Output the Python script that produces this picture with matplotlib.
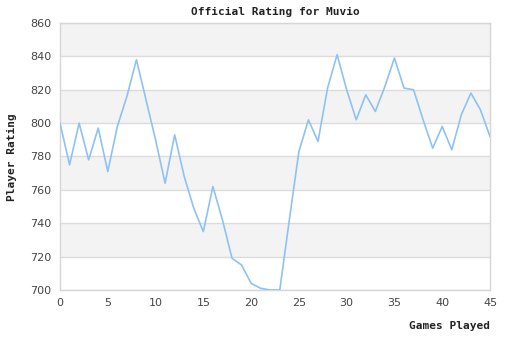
import matplotlib
matplotlib.use("Agg")
import matplotlib.pyplot as plt

# rating after each game
games = list(range(46))
rating = [800, 775, 800, 778, 797, 771, 798, 816, 838, 814,
          790, 764, 793, 768, 749, 735, 762, 742, 719, 715,
          704, 701, 700, 700, 742, 783, 802, 789, 821, 841,
          820, 802, 817, 807, 822, 839, 821, 820, 802, 785,
          798, 784, 805, 818, 808, 792]

y_ticks = list(range(700, 861, 20))
x_ticks = list(range(0, 46, 5))

fig = plt.figure(figsize=(5.1, 3.4), dpi=100)
ax = fig.add_axes([60 / 510, 1 - 290 / 340, 430 / 510, 267 / 340])

# alternating horizontal bands
for i, lo in enumerate(y_ticks[:-1]):
    if (len(y_ticks) - 2 - i) % 2 == 0:
        ax.axhspan(lo, lo + 20, color="#f3f3f3", zorder=0, lw=0)
for t in y_ticks:
    ax.axhline(t, color="#dcdcdc", lw=1, zorder=1)

ax.plot(games, rating, color="#8ec2f2", lw=1.2, zorder=3)

ax.set_xlim(0, 45)
ax.set_ylim(700, 860)
ax.set_xticks(x_ticks)
ax.set_yticks(y_ticks)
ax.tick_params(length=0, labelsize=8, colors="#444444", pad=6)
for s in ax.spines.values():
    s.set_color("#d6d6d6")
    s.set_linewidth(1)

mono = dict(family="DejaVu Sans Mono", weight="bold", size=8, color="#222222")
fig.text(275 / 510, 1 - 12 / 340, "Official Rating for Muvio", ha="center", va="center", **mono)
fig.text(12 / 510, 1 - 157 / 340, "Player Rating", rotation=90, ha="center", va="center", **mono)
fig.text(490 / 510, 1 - 326 / 340, "Games Played", ha="right", va="center", **mono)

fig.savefig("out.png", dpi=100)
